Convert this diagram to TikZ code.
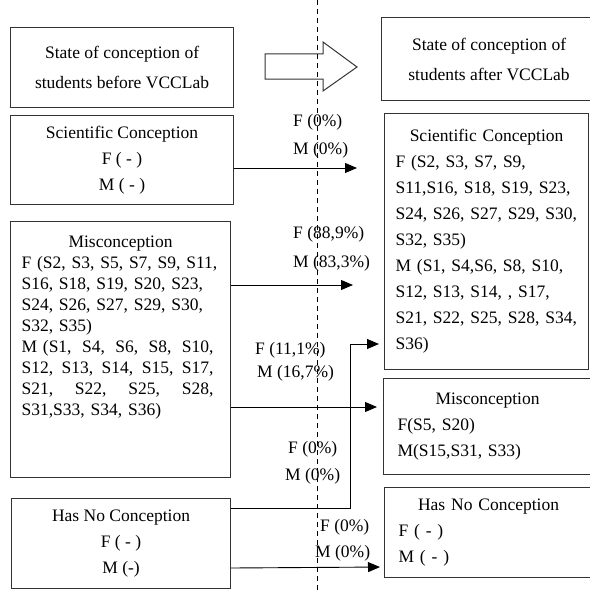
\documentclass[tikz,border=0pt]{standalone}
\usepackage{fontspec}
\setmainfont{Liberation Serif}
\usetikzlibrary{calc,arrows.meta}
\tikzset{
  figfont/.style={font=\fontsize{17.5}{26}\selectfont},
  figbox/.style={draw=black!80, line width=1.1pt, anchor=north west, inner sep=0pt, figfont},
  figboxhead/.style={figbox, align=center, font=\fontsize{17.5}{30}\selectfont},
  figboxlist/.style={figbox, align=left, inner xsep=14pt},
  figarrow/.style={-{Triangle[length=12pt,width=10pt]}, line width=0.9pt},
  figpct/.style={anchor=west, inner sep=0pt, figfont},
  figdash/.style={line width=1pt, dash pattern=on 5pt off 4pt},
}
\newcommand{\boxtitle}[1]{\leavevmode\hbox to\hsize{\hfil#1\hfil}}
\newcommand{\spreadline}[1]{\leavevmode\hbox to192pt{#1}}

\begin{document}
\begin{tikzpicture}[x=1pt, y=-1pt]
		\useasboundingbox (0,0) rectangle (589,594);

		% Left column: before VCCLab
		\node[figboxhead, minimum width=223pt, minimum height=80pt] (lhead) at (10,27)
			{State of conception of\\students before VCCLab};
		\node[figbox, align=center, minimum width=223pt, minimum height=89pt] (lsc) at (10,115)
			{Scientific Conception\\F ( - )\\M ( - )};
		\node[figboxlist, inner xsep=11pt, text width=198pt, minimum height=256pt,
			font=\fontsize{17.5}{21}\selectfont] (lmis) at (10,221)
			{\boxtitle{Misconception}\\
			F (S2, S3, S5, S7, S9, S11,\\
			S16, S18, S19, S20, S23,\\
			S24, S26, S27, S29, S30,\\
			S32, S35)\\
			\spreadline{M (S1, \hfil S4, \hfil S6, \hfil S8, \hfil S10,}\\
			\spreadline{S12, \hfil S13, \hfil S14, \hfil S15, \hfil S17,}\\
			\spreadline{S21, \hfil S22, \hfil S25, \hfil S28,}\\
			S31,S33, S34, S36)\\[27pt]\mbox{}};
		\node[figbox, align=center, minimum width=219pt, minimum height=90pt] (lhnc) at (11,498)
			{Has No Conception\\F ( - )\\M (-)};

		% Transition arrow
		\draw[line width=1pt, black!80] (265,54) -- (323,54) -- (323,42) -- (357,67)
			-- (323,91) -- (323,79) -- (265,79) -- cycle;

		% Right column: after VCCLab
		\node[figboxhead, minimum width=215pt, minimum height=83pt] (rhead) at (381,17)
			{State of conception of\\students after VCCLab};
		\node[figboxlist, inner xsep=11pt, text width=182pt, minimum height=256pt] (rsc) at (384,113)
			{\boxtitle{Scientific Conception}\\
			F (S2, S3, S7, S9,\\
			S11,S16, S18, S19, S23,\\
			S24, S26, S27, S29, S30,\\
			S32, S35)\\
			M (S1, S4,S6, S8, S10,\\
			S12, S13, S14, , S17,\\
			S21, S22, S25, S28, S34,\\
			S36)};
		\node[figboxlist, text width=180pt, minimum height=96pt] (rmis) at (383,378)
			{\boxtitle{Misconception}\\F(S5, S20)\\M(S15,S31, S33)};
		\node[figboxlist, text width=180pt, minimum height=90pt] (rhnc) at (384,487)
			{\boxtitle{Has No Conception}\\F ( - )\\M ( - )};

		% Connectors
		\draw[figarrow, shorten >=27pt] (lsc.east |- 0,168) -- (rsc.west |- 0,168);
		\draw[figarrow, shorten >=31pt] (lmis.east |- 0,285) -- (rsc.west |- 0,285);
		\draw[figarrow, shorten >=6pt] (lmis.east |- 0,407) -- (rmis.west |- 0,407);
		\draw[figarrow, shorten >=5pt] (lhnc.east |- 0,508) -- ++(119,0) |- (rsc.west |- 0,344);
		\draw[figarrow, shorten >=4pt] (lhnc.east |- 0,568) -- (rhnc.west |- 0,567);

		% Percentages
		\node[figpct] (p1f) at (293,122) {F (0\%)};
		\node[figpct] (p1m) at (293,150) {M (0\%)};
		\node[figpct] (p2f) at (293,234) {F (88,9\%)};
		\node[figpct] (p2m) at (293,263) {M (83,3\%)};
		\node[figpct] (p3f) at (255,350) {F (11,1\%)};
		\node[figpct] (p3m) at (257,373) {M (16,7\%)};
		\node[figpct] (p4f) at (288,449) {F (0\%)};
		\node[figpct] (p4m) at (285,476) {M (0\%)};
		\node[figpct] (p5f) at (320,527) {F (0\%)};
		\node[figpct] (p5m) at (315,553) {M (0\%)};

		% Before / after divide
		\draw[figdash] (317,0) -- (317,594);
	\end{tikzpicture}
\end{document}
